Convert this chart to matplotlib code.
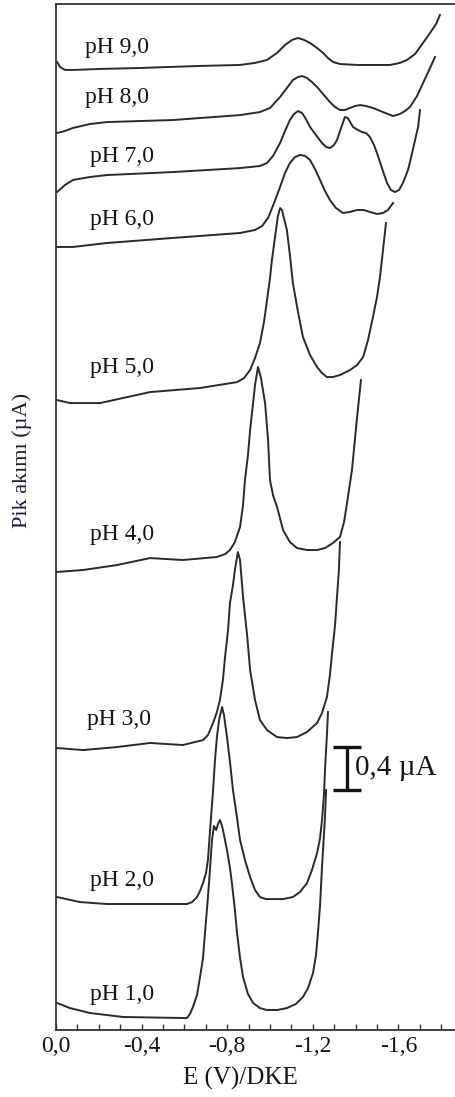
import matplotlib
matplotlib.use("Agg")
import matplotlib.pyplot as plt
from matplotlib.ticker import MultipleLocator, FuncFormatter

plt.rcParams['font.family'] = ['Liberation Serif', 'DejaVu Serif']

# Differential pulse voltammograms at different pH values.
# Potentials as |E| (V vs DKE); currents in uA relative to each trace's start.
ph_labels = ["pH 1,0", "pH 2,0", "pH 3,0", "pH 4,0", "pH 5,0",
             "pH 6,0", "pH 7,0", "pH 8,0", "pH 9,0"]

# vertical stacking offsets of each trace (uA)
offsets = [0.251, 1.237, 2.623, 4.260, 5.860, 7.284, 7.795, 8.344, 9.005]

E_ph1 = [0.005, 0.065, 0.159, 0.313, 0.612, 0.626, 0.640, 0.659, 0.673, 0.687,
         0.696, 0.706, 0.715, 0.729, 0.738, 0.748, 0.757, 0.766, 0.776, 0.785,
         0.799, 0.813, 0.822, 0.836, 0.846, 0.860, 0.874, 0.897, 0.921, 0.953,
         0.986, 1.033, 1.079, 1.121, 1.154, 1.178, 1.201, 1.215, 1.224, 1.234,
         1.243, 1.252, 1.257, 1.262]
I_ph1 = [0.0, -0.047, -0.093, -0.130, -0.140, -0.102, -0.037, 0.074, 0.242, 0.419,
         0.651, 0.884, 1.116, 1.516, 1.647, 1.609, 1.665, 1.702, 1.647, 1.563,
         1.423, 1.256, 1.116, 0.865, 0.651, 0.419, 0.242, 0.084, 0.0, -0.047,
         -0.065, -0.065, -0.047, -0.009, 0.056, 0.140, 0.279, 0.447, 0.651, 0.912,
         1.265, 1.563, 1.730, 1.981]

E_ph2 = [0.005, 0.112, 0.238, 0.612, 0.636, 0.659, 0.673, 0.687, 0.701, 0.710,
         0.720, 0.734, 0.743, 0.752, 0.762, 0.776, 0.785, 0.799, 0.813, 0.827,
         0.846, 0.860, 0.883, 0.907, 0.930, 0.953, 0.981, 1.014, 1.061, 1.107,
         1.140, 1.173, 1.196, 1.220, 1.234, 1.243, 1.252, 1.257, 1.266, 1.271]
I_ph2 = [0.0, -0.047, -0.065, -0.065, -0.047, 0.0, 0.056, 0.130, 0.223, 0.344,
         0.623, 0.995, 1.274, 1.488, 1.647, 1.767, 1.693, 1.488, 1.256, 0.995,
         0.735, 0.530, 0.344, 0.186, 0.065, 0.0, -0.019, -0.019, -0.019, 0.0,
         0.047, 0.130, 0.251, 0.409, 0.549, 0.716, 0.949, 1.181, 1.507, 1.721]

E_ph3 = [0.005, 0.126, 0.285, 0.439, 0.593, 0.687, 0.710, 0.734, 0.752, 0.766,
         0.780, 0.790, 0.804, 0.813, 0.827, 0.836, 0.846, 0.850, 0.860, 0.874,
         0.893, 0.907, 0.930, 0.953, 0.986, 1.033, 1.079, 1.126, 1.173, 1.220,
         1.243, 1.266, 1.280, 1.290, 1.304, 1.313, 1.322, 1.327]
I_ph3 = [0.0, -0.019, 0.009, 0.047, 0.028, 0.074, 0.121, 0.233, 0.335, 0.447,
         0.633, 0.847, 1.098, 1.349, 1.516, 1.656, 1.777, 1.823, 1.749, 1.405,
         1.051, 0.726, 0.447, 0.260, 0.167, 0.102, 0.093, 0.102, 0.149, 0.233,
         0.326, 0.474, 0.679, 0.884, 1.144, 1.405, 1.656, 1.916]

E_ph4 = [0.0, 0.126, 0.285, 0.439, 0.593, 0.752, 0.790, 0.813, 0.836, 0.860,
         0.874, 0.883, 0.897, 0.907, 0.921, 0.930, 0.944, 0.958, 0.967, 0.977,
         0.991, 1.000, 1.014, 1.033, 1.061, 1.093, 1.126, 1.173, 1.220, 1.257,
         1.294, 1.327, 1.346, 1.360, 1.383, 1.407, 1.425]
I_ph4 = [0.0, 0.019, 0.065, 0.130, 0.112, 0.140, 0.167, 0.205, 0.279, 0.419,
         0.623, 0.856, 1.088, 1.321, 1.572, 1.740, 1.907, 1.805, 1.693, 1.572,
         1.228, 0.856, 0.716, 0.605, 0.391, 0.279, 0.223, 0.205, 0.205, 0.223,
         0.270, 0.326, 0.465, 0.642, 0.949, 1.442, 1.786]

E_ph5 = [0.005, 0.065, 0.206, 0.439, 0.673, 0.846, 0.879, 0.907, 0.930, 0.953,
         0.972, 0.986, 1.000, 1.009, 1.028, 1.037, 1.047, 1.056, 1.065, 1.079,
         1.093, 1.107, 1.131, 1.154, 1.187, 1.220, 1.243, 1.266, 1.294, 1.327,
         1.374, 1.407, 1.435, 1.458, 1.481, 1.500, 1.514, 1.528, 1.542]
I_ph5 = [0.0, -0.028, -0.028, 0.074, 0.112, 0.167, 0.205, 0.279, 0.391, 0.530,
         0.726, 0.930, 1.135, 1.302, 1.581, 1.712, 1.786, 1.767, 1.693, 1.581,
         1.349, 1.088, 0.818, 0.586, 0.419, 0.307, 0.251, 0.214, 0.214, 0.233,
         0.279, 0.326, 0.400, 0.558, 0.772, 0.958, 1.144, 1.395, 1.647]

E_ph6 = [0.0, 0.079, 0.238, 0.547, 0.860, 0.930, 0.963, 0.991, 1.019, 1.047,
         1.070, 1.093, 1.117, 1.140, 1.164, 1.187, 1.210, 1.234, 1.257, 1.280,
         1.308, 1.341, 1.374, 1.407, 1.439, 1.467, 1.500, 1.528, 1.551, 1.575]
I_ph6 = [0.0, 0.0, 0.037, 0.084, 0.130, 0.158, 0.195, 0.270, 0.409, 0.558,
         0.688, 0.781, 0.837, 0.856, 0.847, 0.809, 0.726, 0.623, 0.521, 0.437,
         0.363, 0.316, 0.326, 0.344, 0.344, 0.326, 0.307, 0.316, 0.344, 0.409]

E_ph7 = [0.005, 0.042, 0.079, 0.159, 0.238, 0.547, 0.860, 0.953, 0.986, 1.014,
         1.047, 1.070, 1.093, 1.112, 1.131, 1.150, 1.168, 1.187, 1.215, 1.243,
         1.262, 1.280, 1.299, 1.313, 1.332, 1.350, 1.364, 1.388, 1.411, 1.430,
         1.449, 1.467, 1.486, 1.500, 1.523, 1.547, 1.565, 1.584, 1.603, 1.621,
         1.645, 1.664, 1.678, 1.692, 1.701]
I_ph7 = [0.0, 0.065, 0.112, 0.140, 0.158, 0.186, 0.223, 0.242, 0.270, 0.335,
         0.456, 0.567, 0.670, 0.726, 0.753, 0.735, 0.679, 0.605, 0.530, 0.456,
         0.419, 0.409, 0.437, 0.484, 0.595, 0.698, 0.688, 0.605, 0.577, 0.558,
         0.549, 0.512, 0.437, 0.363, 0.223, 0.084, 0.019, 0.0, 0.019, 0.084,
         0.205, 0.363, 0.484, 0.605, 0.763]

E_ph8 = [0.005, 0.042, 0.079, 0.159, 0.238, 0.547, 0.860, 0.953, 1.000, 1.047,
         1.079, 1.107, 1.131, 1.150, 1.173, 1.196, 1.220, 1.252, 1.280, 1.304,
         1.327, 1.350, 1.374, 1.397, 1.421, 1.449, 1.481, 1.528, 1.575, 1.607,
         1.631, 1.654, 1.687, 1.715, 1.748, 1.771]
I_ph8 = [0.0, 0.019, 0.047, 0.084, 0.102, 0.121, 0.167, 0.195, 0.233, 0.335,
         0.419, 0.493, 0.521, 0.530, 0.512, 0.474, 0.428, 0.353, 0.288, 0.242,
         0.214, 0.214, 0.233, 0.251, 0.260, 0.251, 0.233, 0.195, 0.158, 0.177,
         0.205, 0.242, 0.344, 0.465, 0.605, 0.707]

E_ph9 = [0.005, 0.019, 0.042, 0.089, 0.206, 0.393, 0.673, 0.860, 0.930, 0.986,
         1.033, 1.070, 1.103, 1.131, 1.159, 1.187, 1.220, 1.248, 1.271, 1.294,
         1.327, 1.407, 1.491, 1.561, 1.607, 1.640, 1.678, 1.715, 1.748, 1.776,
         1.794]
I_ph9 = [0.0, -0.047, -0.074, -0.074, -0.065, -0.056, -0.037, -0.028, -0.009, 0.019,
         0.084, 0.158, 0.205, 0.223, 0.205, 0.177, 0.130, 0.084, 0.037, 0.0,
         -0.019, -0.028, -0.028, -0.028, -0.009, 0.019, 0.074, 0.177, 0.270, 0.353,
         0.437]

potentials = [E_ph1, E_ph2, E_ph3, E_ph4, E_ph5, E_ph6, E_ph7, E_ph8, E_ph9]
currents = [I_ph1, I_ph2, I_ph3, I_ph4, I_ph5, I_ph6, I_ph7, I_ph8, I_ph9]

# label anchors (|E| in V, stacked current in uA)
label_x = [0.159, 0.159, 0.145, 0.159, 0.159, 0.159, 0.159, 0.136, 0.136]
label_y = [0.326, 1.395, 2.884, 4.605, 6.167, 7.535, 8.121, 8.670, 9.144]

scale_bar_uA = 0.4
x_ticks = [0.0, 0.4, 0.8, 1.2, 1.6]

W, H = 455, 1097
fig = plt.figure(figsize=(W / 100, H / 100), dpi=100)
ax = fig.add_axes([56 / W, 1 - 1030 / H, 1 - 56 / W, 1026 / H])

for E, I, off in zip(potentials, currents, offsets):
    ax.plot(E, [v + off for v in I], color="#2a2a2a", lw=1.4,
            solid_joinstyle="round")

for txt, lx, ly in zip(ph_labels, label_x, label_y):
    ax.text(lx, ly, txt, fontsize=17, color="#141414", va="center", ha="left")

# scale bar
bar_x, bar_y0 = 1.360, 2.233
ax.plot([bar_x, bar_x], [bar_y0, bar_y0 + scale_bar_uA], color="#111", lw=2.4,
        solid_capstyle="butt")
for yy in (bar_y0, bar_y0 + scale_bar_uA):
    ax.plot([bar_x - 0.065, bar_x + 0.065], [yy, yy], color="#111", lw=2.4,
            solid_capstyle="butt")
ax.text(bar_x + 0.036, bar_y0 + scale_bar_uA / 2, "0,4 µA", fontsize=21,
        color="#141414", va="center", ha="left")

ax.set_xlim(0, 399 / 214)
ax.set_ylim(0, 1026 / 107.5)

ax.set_xticks(x_ticks)
ax.xaxis.set_minor_locator(MultipleLocator(0.1))
ax.xaxis.set_major_formatter(FuncFormatter(
    lambda v, p: ("-" if v > 1e-9 else "") + f"{v:.1f}".replace(".", ",")))
ax.tick_params(axis="x", which="both", direction="in", length=4, width=1,
               color="#333", labelsize=17, labelcolor="#141414", pad=4)
ax.set_yticks([])

for side in ("left", "bottom", "top"):
    ax.spines[side].set_linewidth(1.3)
    ax.spines[side].set_color("#333")
ax.spines["right"].set_visible(False)

fig.text(240 / W, 1 - 1078 / H, "E (V)/DKE", fontsize=18, color="#141414",
         ha="center", va="center")
fig.text(22 / W, 1 - 460 / H, "Pik akımı (µA)", fontsize=16, color="#1a1a40",
         ha="center", va="center", rotation=90)

fig.savefig("out.png", dpi=100)
